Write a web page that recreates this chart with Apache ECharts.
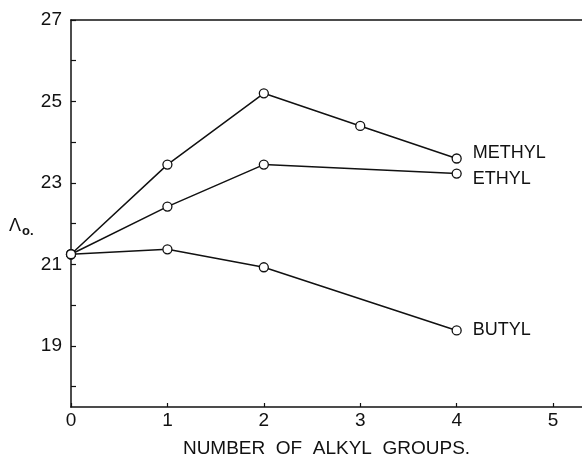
<!DOCTYPE html>
<html><head><meta charset="utf-8">
<script src="https://cdn.jsdelivr.net/npm/echarts@6/dist/echarts.min.js"></script>
<style>html,body{margin:0;padding:0;background:#fff}#c{width:582px;height:457px}</style>
</head><body><div id="c"></div>
<script>
var groups = [0, 1, 2, 3, 4];
var methyl = [21.25, 23.45, 25.2, 24.4, 23.6];
var ethyl  = [21.25, 22.42, 23.45, null, 23.23];
var butyl  = [21.25, 21.37, 20.93, null, 19.38];
var seriesNames = ['METHYL', 'ETHYL', 'BUTYL'];
var xTicks = [0, 1, 2, 3, 4, 5];
var yLabels = [19, 21, 23, 25, 27];
var yTicks = [18, 19, 20, 21, 22, 23, 24, 25, 26, 27];

function pairs(vals) {
  var out = [];
  for (var i = 0; i < groups.length; i++) if (vals[i] != null) out.push([groups[i], vals[i]]);
  return out;
}
var font = 'Liberation Sans';
var labelOffsets = [[8, -5], [8, 5], [8, 0]];
function mk(name, vals, off) {
  return {
    type: 'line', name: name, data: pairs(vals),
    symbol: 'circle', symbolSize: 9,
    itemStyle: { color: '#fff', borderColor: '#111', borderWidth: 1.3 },
    lineStyle: { color: '#111', width: 1.5 },
    endLabel: { show: true, formatter: name, color: '#111', fontFamily: font, fontSize: 18, offset: off },
    z: 3, animation: false
  };
}
var chart = echarts.init(document.getElementById('c'), null, { renderer: 'canvas' });
chart.setOption({
  backgroundColor: '#fff',
  animation: false,
  grid: { left: 71, top: 20, right: 0, bottom: 50, containLabel: false, outerBoundsMode: 'none' },
  xAxis: [{
    type: 'value', min: 0, max: 5.3, position: 'bottom',
    name: 'NUMBER  OF  ALKYL  GROUPS.', nameLocation: 'middle', nameGap: 32,
    nameTextStyle: { color: '#111', fontFamily: font, fontSize: 19 },
    axisLine: { lineStyle: { color: '#111', width: 1.7 } },
    axisTick: { show: true, inside: true, length: 4, customValues: xTicks, lineStyle: { color: '#111', width: 1.2 } },
    axisLabel: { customValues: xTicks, color: '#111', fontFamily: font, fontSize: 19, margin: 4 },
    splitLine: { show: false }
  }, {
    type: 'value', min: 0, max: 5.3, position: 'top',
    axisLine: { show: true, lineStyle: { color: '#111', width: 1.7 } },
    axisTick: { show: false }, axisLabel: { show: false }, splitLine: { show: false }
  }],
  yAxis: {
    type: 'value', min: 17.5, max: 27,
    axisLine: { show: true, lineStyle: { color: '#111', width: 1.5 } },
    axisTick: { show: true, inside: true, length: 5, customValues: yTicks, lineStyle: { color: '#111', width: 1.2 } },
    axisLabel: { customValues: yLabels, color: '#111', fontFamily: font, fontSize: 19, margin: 9 },
    splitLine: { show: false }
  },
  graphic: [{
    type: 'text', left: 9, top: 217,
    style: { text: 'Λ', fontFamily: font, fontSize: 18, fill: '#111' }
  }, {
    type: 'text', left: 22, top: 225,
    style: { text: 'o.', fontFamily: font, fontSize: 13, fontWeight: 'bold', fill: '#111' }
  }],
  series: [
    mk(seriesNames[0], methyl, labelOffsets[0]),
    mk(seriesNames[1], ethyl, labelOffsets[1]),
    mk(seriesNames[2], butyl, labelOffsets[2])
  ]
});
</script></body></html>
